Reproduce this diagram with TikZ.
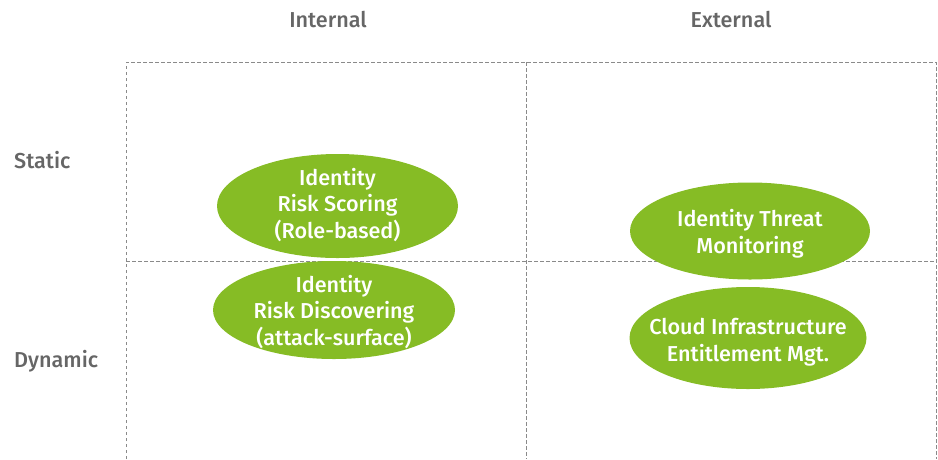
\documentclass[tikz,border=0pt]{standalone}
\usepackage{fontspec}
\setmainfont{Fira Sans}[UprightFont={* Medium}]
\usetikzlibrary{shapes.geometric}
\definecolor{dgreen}{HTML}{86BC25}
\definecolor{lgray}{HTML}{666666}
\definecolor{gline}{HTML}{8A8A8A}
\tikzset{
  blob/.style={ellipse, fill=dgreen, inner sep=0pt},
  blobtext/.style={text=white, inner sep=0pt, align=center,
    font=\fontsize{21.6}{26.6}\selectfont},
  axislabel/.style={text=lgray, font=\fontsize{21.6}{24}\selectfont, inner sep=0pt},
  grid/.style={gline, line width=0.9pt, dash pattern=on 3.5pt off 2.5pt}
}
\begin{document}
\begin{tikzpicture}[x=1pt,y=-1pt]
\useasboundingbox (0,0) rectangle (938,459);
\coordinate (tl) at (126,62);
\coordinate (tm) at (526,62);
\coordinate (tr) at (936,62);
\coordinate (bl) at (126,459);
\coordinate (bm) at (526,459);
\coordinate (br) at (936,459);
\coordinate (ml) at (126,261);
\coordinate (mr) at (936,261);
\draw[grid] (bl) -- (tl) -- (tr) -- (br);
\draw[grid] (tm) -- (bm);
\draw[grid] (ml) -- (mr);
\node[axislabel] (int) at (328,20) {Internal};
\node[axislabel] (ext) at (731,20) {External};
\node[axislabel, anchor=west] (sta) at (14,160) {Static};
\node[axislabel, anchor=west] (dyn) at (14,361) {Dynamic};
\node[blob, minimum width=241pt, minimum height=104pt] (e1) at (337.5,206) {};
\node[blobtext, yshift=1pt] (t1) at (e1.center) {Identity\\Risk Scoring\\(Role-based)};
\node[blob, minimum width=242pt, minimum height=98pt] (e2) at (334,310) {};
\node[blobtext, yshift=-2pt] (t2) at (e2.center) {Identity\\Risk Discovering\\(attack-surface)};
\node[blob, minimum width=240pt, minimum height=97pt] (e3) at (750,231) {};
\node[blobtext, yshift=-3pt] (t3) at (e3.center) {Identity Threat\\Monitoring};
\node[blob, minimum width=237pt, minimum height=102pt] (e4) at (748,338) {};
\node[blobtext, yshift=-4pt] (t4) at (e4.center) {Cloud Infrastructure\\Entitlement Mgt.};
\end{tikzpicture}
\end{document}
